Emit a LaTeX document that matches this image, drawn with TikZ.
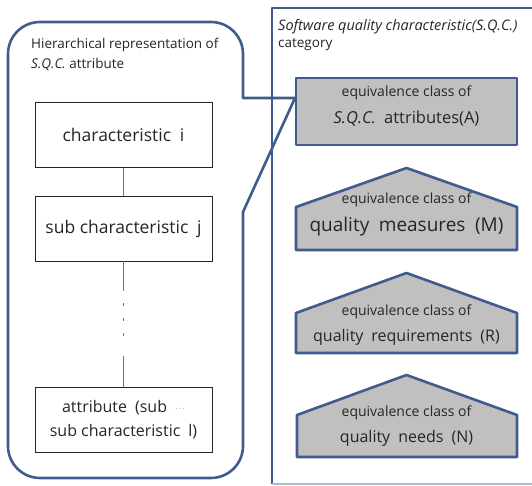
\documentclass[tikz,border=0pt]{standalone}
\usepackage{fontspec}
\setmainfont{Open Sans}
\definecolor{frame}{HTML}{3E5C8C}
\definecolor{lightframe}{HTML}{A9BBD2}
\definecolor{boxfill}{HTML}{C0C0C0}
\definecolor{txt}{HTML}{262626}
\definecolor{conn}{HTML}{707070}
\tikzset{
  outline/.style={draw=frame, line width=2.6pt, line join=round},
  plainbox/.style={draw=black!85, line width=0.9pt, fill=white, minimum width=177pt, minimum height=65pt, inner sep=0pt, align=center, font=\fontsize{17.5}{21}\selectfont, text=txt},
  eqclass/.style={draw=frame, line width=2.6pt, fill=boxfill, line join=round},
  lbl/.style={inner sep=0pt, text=txt},
  firstline/.style={lbl, font=\fontsize{14}{16}\selectfont},
  conline/.style={draw=conn, line width=0.9pt}
}
\begin{document}
\begin{tikzpicture}[x=1pt,y=1pt]
\useasboundingbox (0,0) rectangle (532,486);
\fill[white] (0,0) rectangle (532,486);
% right category frame
\draw[outline] (536,478) -- (272,478) -- (272,2);
\draw[draw=lightframe, line width=1.5pt] (272,2) -- (536,2);
\node[anchor=west, lbl, font=\fontsize{14.5}{16}\selectfont] (cat1) at (278,459) {\itshape Software quality characteristic(S.Q.C.)};
\node[anchor=west, lbl, font=\fontsize{13.5}{16}\selectfont] (cat2) at (278,441) {category};
% callout left
\draw[outline] (243,388) -- (295,388) -- (243,274) -- (243,40)
  arc[start angle=0, end angle=-90, radius=32] -- (40,8)
  arc[start angle=270, end angle=180, radius=32] -- (8,432)
  arc[start angle=180, end angle=90, radius=32] -- (211,464)
  arc[start angle=90, end angle=0, radius=32] -- cycle;
\node[anchor=west, lbl, font=\fontsize{13.5}{16}\selectfont] (h1) at (31,441) {Hierarchical representation of};
\node[anchor=west, lbl, font=\fontsize{13.5}{16}\selectfont] (h2) at (31,421) {\itshape S.Q.C.\upshape{} attribute};
% hierarchy boxes
\node[plainbox] (ci) at (123.5,351) {characteristic\enspace i};
\node[plainbox] (sj) at (123.5,257.5) {sub characteristic\enspace j};
\node[plainbox, font=\fontsize{16}{24}\selectfont] (at) at (123.5,66.5) {attribute\enspace(sub\enspace\raisebox{2pt}{\scriptsize$\cdots$}\\sub characteristic\enspace l)};
\draw[conline] (ci.south) -- (sj.north);
\draw[conline, line width=1.3pt, dash pattern=on 30pt off 12pt on 2.2pt off 12.8pt on 2.2pt off 12.8pt on 2.2pt off 20.5pt on 40pt] (sj.south) -- (at.north);
% equivalence classes
\draw[eqclass] (296,341) rectangle (517,408);
\node[firstline] (A1) at (406.5,393) {equivalence class of};
\node[lbl, font=\fontsize{16.5}{18}\selectfont] (A2) at (406.5,367) {\itshape S.Q.C.\upshape\enspace attributes(A)};
\draw[eqclass] (296,236) -- (296,279) -- (406.5,318) -- (517,279) -- (517,236) -- cycle;
\node[firstline] (M1) at (406.5,286) {equivalence class of};
\node[lbl, font=\fontsize{19}{20}\selectfont] (M2) at (406.5,259) {quality\enspace measures\enspace (M)};
\draw[eqclass] (296,133) -- (296,173) -- (406.5,213) -- (517,173) -- (517,133) -- cycle;
\node[firstline] (R1) at (406.5,174) {equivalence class of};
\node[lbl, font=\fontsize{16}{18}\selectfont] (R2) at (406.5,149) {quality\enspace requirements\enspace (R)};
\draw[eqclass] (297,29) -- (297,71) -- (406.5,111) -- (517,71) -- (517,29) -- cycle;
\node[firstline] (N1) at (406.5,73) {equivalence class of};
\node[lbl, font=\fontsize{16}{18}\selectfont] (N2) at (406.5,48) {quality\enspace needs\enspace (N)};
\end{tikzpicture}
\end{document}
